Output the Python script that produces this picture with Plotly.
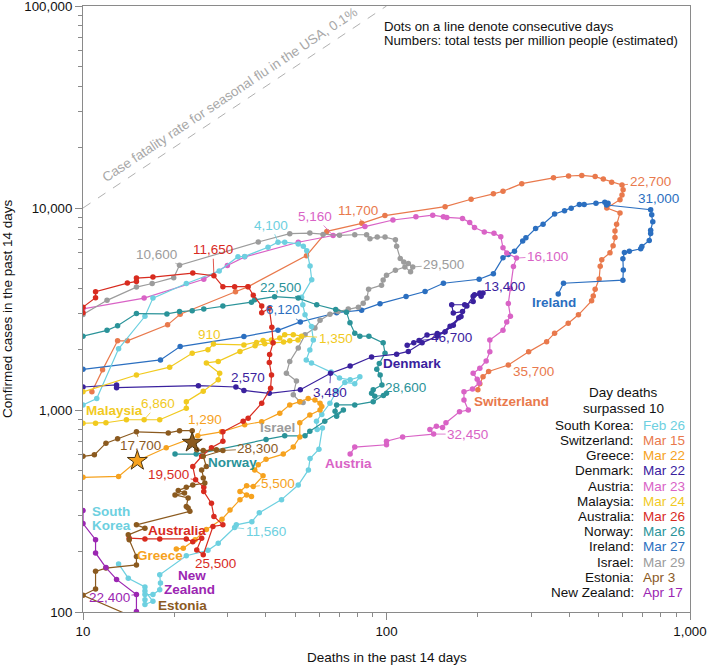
import numpy as np
import plotly.graph_objects as go

# ---------------- data (deaths in past 14 days, confirmed cases in past 14 days) -------------
korea_deaths = [10, 11.1, 13.1, 16.0, 17.0, 21.9, 28.1, 32.4, 34.1, 40.7, 43.9, 46.2, 51.2, 53.2, 54.6, 56.0, 56.7,
                52.5, 53.0, 53.9, 56.6, 57.4, 55.9, 54.4, 56.6, 65.7, 70.0, 75.9, 81.7, 78.6, 72.9, 68.5, 65.1,
                61.2, 58.8, 59.1, 61.5, 59.9, 56.0, 55.3, 51.2, 45.1, 38.1, 36.0, 32.0, 31.6, 27.9, 25.8, 21.9,
                17.9, 18.0, 17.9, 17.0, 16.0, 16.0, 16.0, 17.0, 16.0, 16.0, 14.1, 13.1]
korea_cases = [1060, 1140, 2010, 2910, 3580, 4230, 4880, 5740, 5760, 6390, 6770, 6770, 6640, 6460, 6140, 5160, 4420,
               3620, 3320, 2960, 2590, 2220, 1980, 1770, 1710, 1540, 1440, 1410, 1460, 1350, 1370, 1240, 1080,
               950, 880, 800, 815, 640, 575, 505, 425, 360, 310, 280, 270, 262, 219, 202, 190,
               153, 139, 129, 122, 122, 115, 109, 113, 127, 133, 147, 173]

swiss_deaths = [10.7, 11.6, 13.0, 14.0, 19.0, 20.9, 31.8, 34.9, 54.5, 63.6, 82.9, 98.8, 156, 190, 225, 242, 279,
                355, 398, 440, 487, 518, 552, 597, 602, 597, 588, 532, 588, 573, 566, 566, 558, 545, 512, 506,
                502, 487, 480, 474, 429, 397, 358, 337, 294, 252, 217, 208, 203, 200]
swiss_cases = [1230, 1580, 2200, 2200, 2640, 2980, 3850, 4070, 5810, 7660, 8400, 9170, 10150, 11050, 11750, 12100,
               13200, 14100, 14400, 14500, 14300, 13900, 13400, 13000, 12300, 11600, 11000, 10000, 9450, 8300,
               7700, 7150, 6500, 6000, 5550, 5150, 4450, 3960, 3670, 3470, 2960, 2690, 2400, 2180, 1940, 1670,
               1550, 1460, 1350, 1260]

greece_deaths = [10, 13.1, 15.1, 18.8, 23.9, 28.6, 34.1, 38.8, 44.5, 48.0, 51.8, 55.2, 58.1, 60.4, 61.2, 60.4, 55.9,
                 51.8, 51.8, 49.3, 45.7, 40.1, 37.8, 36.8, 39.2, 36.4, 34.6, 32.9, 35.9, 34.6, 32.9, 30.5, 28.7,
                 25.5, 23.4, 21.4, 20.3]
greece_cases = [464, 469, 561, 650, 745, 780, 845, 875, 965, 1060, 1100, 1140, 1120, 1080, 1040, 1000, 945,
                865, 735, 655, 605, 570, 535, 505, 472, 418, 422, 395, 373, 380, 360, 320, 288, 256, 228, 207, 205]

denmark_deaths = [10, 12.9, 12.9, 24.0, 31.9, 33.9, 41.1, 52.0, 65.4, 75.9, 89.3, 108, 118, 131, 147, 162, 173,
                  184, 193, 203, 208, 205, 195, 193, 181, 164, 166, 178, 176, 166, 156, 147, 136, 128, 123, 117]
denmark_cases = [1300, 1330, 1290, 1320, 1300, 1250, 1210, 1260, 1520, 1650, 1830, 1890, 1950, 2150, 2320, 2600,
                 2860, 3270, 3660, 3800, 3800, 3660, 3720, 3440, 3320, 3320, 3020, 3070, 2900, 2630, 2440, 2390,
                 2350, 2210, 2150, 2090]

austria_deaths = [10, 15.9, 25.0, 29.9, 34.1, 51.2, 66.7, 84.9, 105, 125, 142, 154, 158, 178, 188, 195, 210, 226,
                  238, 242, 249, 268, 262, 256, 252, 256, 249, 242, 219, 219, 213, 203, 193, 199, 202, 192, 180,
                  180, 186, 174, 157, 153, 146, 139, 143, 113, 100, 100, 78.6, 75.9]
austria_cases = [3170, 3580, 4440, 5190, 5730, 6770, 7310, 8090, 8720, 9040, 9220, 9040, 8980, 8880, 8480, 8000,
                 7610, 7490, 7210, 6350, 5990, 5650, 5130, 4000, 3370, 2910, 2730, 2480, 2220, 1940, 1750, 1610,
                 1520, 1420, 1360, 1270, 1230, 1120, 1000, 980, 865, 820, 830, 800, 760, 735, 700, 673, 655, 605]

malaysia_deaths = [10, 15.0, 19.3, 22.9, 25.8, 26.9, 33.9, 37.3, 39.2, 41.8, 44.5, 46.2, 49.3, 52.5, 51.1, 48.0,
                   45.8, 42.2, 39.7, 36.9, 32.9, 27.9, 25.5, 28.2, 27.9, 24.9, 21.9, 21.9, 17.9, 15.9, 13.9, 11.9,
                   11.0, 10.0]
malaysia_cases = [1230, 1490, 1630, 1910, 1990, 2120, 2100, 2160, 2210, 2220, 2270, 2360, 2360, 2320, 2220, 2200,
                  2170, 2150, 2130, 2080, 1950, 1740, 1710, 1520, 1410, 1240, 1100, 1020, 895, 895, 895, 865,
                  860, 860]

australia_deaths = [10, 10, 11.0, 11.0, 14.0, 15.0, 15.0, 17.0, 23.0, 27.0, 28.9, 31.6, 35.0, 36.4, 38.8, 38.8,
                    41.1, 41.9, 42.3, 41.2, 41.1, 41.8, 41.5, 38.8, 35.0, 33.7, 28.9, 28.9, 26.5, 24.6, 23.0,
                    23.5, 25.0, 25.0, 26.5, 27.0, 28.9, 26.8, 24.9, 23.7, 24.6, 23.0, 21.9, 17.9, 16.0, 14.2]
australia_cases = [3030, 3230, 3600, 3850, 4250, 4330, 4500, 4550, 4760, 4620, 4080, 4080, 4080, 3700, 3270, 3030,
                   3190, 2570, 2150, 1880, 1720, 1490, 1280, 1080, 910, 880, 780, 700, 650, 590, 525,
                   451, 415, 395, 345, 297, 270, 265, 192, 203, 232, 223, 230, 230, 230, 232]

norway_deaths = [10, 12.0, 13.0, 15.0, 18.9, 20.8, 22.9, 25.0, 28.9, 35.9, 36.8, 42.8, 51.2, 58.9, 68.0, 73.8,
                 75.8, 78.6, 81.7, 87.5, 97.5, 98.9, 94.7, 92.9, 95.3, 96.6, 90.4, 89.3, 91.5, 97.7, 100, 90.4,
                 78.6, 68.5, 67.7, 68.5, 72.1, 62.6, 55.9, 53.9, 46.2, 40.1, 23.6, 20.1]
norway_cases = [2320, 2480, 2610, 3000, 2990, 3070, 3100, 3160, 3270, 3420, 3510, 3640, 3580, 3320, 3140, 3050,
                2700, 2400, 2320, 2320, 2150, 1910, 1700, 1590, 1490, 1330, 1260, 1210, 1170, 1180, 1210, 1100,
                1060, 1060, 985, 930, 1000, 880, 785, 745, 745, 715, 605, 605]

ireland_deaths = [10, 18.0, 20.9, 33.9, 43.9, 52.0, 68.5, 82.8, 95.2, 116, 134, 154, 202, 225, 242, 252, 264, 281,
                  288, 310, 328, 358, 386, 406, 432, 448, 490, 524, 537, 531, 742, 748, 754, 742, 742, 734, 694,
                  688, 631, 608, 601, 603, 601, 383, 368]
ireland_cases = [1590, 1770, 2060, 2310, 2480, 2730, 3030, 3120, 3360, 3650, 3860, 4240, 4440, 4730, 5670, 5880,
                 6110, 6860, 7130, 7910, 8320, 9340, 9700, 9980, 10400, 10400, 10550, 10690, 10550, 10350, 9800,
                 9250, 8560, 7760, 7470, 6910, 6450, 6280, 6100, 6030, 5600, 4930, 4390, 4240, 3750]

israel_deaths = [10, 12.0, 15.0, 16.9, 19.9, 20.8, 37.8, 48.0, 55.9, 61.8, 70.0, 78.6, 86.0, 88.2, 93.2, 98.9, 107,
                 108, 111, 114, 118, 122, 120, 115, 107, 100, 97.5, 96.3, 87.3, 86.2, 83.8, 80.8, 74.8, 69.3, 65.1,
                 60.4, 58.1, 53.9, 51.2, 48.0, 46.8, 50.5, 49.3, 51.8, 53.1]
israel_cases = [2970, 3490, 4060, 4230, 4520, 5210, 6790, 7460, 7510, 7400, 7320, 7370, 7370, 7050, 7180, 7180,
                6970, 6460, 5620, 5410, 5310, 5110, 4830, 5110, 4920, 4650, 4400, 4150, 3960, 3580, 3380, 3230,
                3160, 3070, 2980, 2780, 2550, 2360, 2030, 1740, 1520, 1390, 1190, 1100, 1090]

estonia_deaths = [10, 10.9, 11.9, 13.0, 15.0, 19.1, 20.8, 22.9, 22.9, 23.7, 24.9, 27.5, 28.9, 24.9, 25.5, 24.6, 24.9,
                  25.2, 23.0, 21.9, 20.6, 21.6, 20.1, 22.2, 21.9, 22.2, 22.5, 15.0, 16.0, 14.1, 14.2, 15.0, 15.0,
                  11.9, 11.0, 11.0, 10.0, 16.6]
estonia_cases = [590, 600, 685, 720, 780, 770, 790, 790, 690, 635, 630, 635, 630, 590, 525, 505, 460, 435, 425, 415,
                 400, 388, 380, 367, 333, 327, 315, 270, 260, 241, 228, 188, 171, 165, 159, 130, 121, 87]

nz_deaths = [10, 10, 11.0, 11.0, 11.9, 12.9, 15.0, 15.0, 15.0]
nz_cases = [318, 274, 228, 196, 166, 145, 122, 100.7, 73]

flu_cfr = 0.001
flu_deaths = [10, 100]

legend_countries = ["South Korea", "Switzerland", "Greece", "Denmark", "Austria", "Malaysia", "Australia",
                    "Norway", "Ireland", "Israel", "Estonia", "New Zealand"]
legend_dates = ["Feb 26", "Mar 15", "Mar 22", "Mar 22", "Mar 23", "Mar 24", "Mar 26", "Mar 26", "Mar 27",
                "Mar 29", "Apr 3", "Apr 17"]

x_tick_vals = [10, 100, 1000]
x_tick_text = ["10", "100", "1,000"]
y_tick_vals = [100, 1000, 10000, 100000]
y_tick_text = ["100", "1,000", "10,000", "100,000"]

# total tests per million labels: (country, point index, text)
test_labels = [
    ("Israel", 5, "10,600"), ("Australia", 9, "11,650"), ("South Korea", 10, "4,100"),
    ("Austria", 6, "5,160"), ("Switzerland", 10, "11,700"), ("Switzerland", 23, "22,700"),
    ("Ireland", 30, "31,000"), ("Israel", 21, "29,500"), ("Austria", 21, "16,100"),
    ("Norway", 12, "22,500"), ("Ireland", 5, "6,120"), ("Denmark", 20, "13,400"),
    ("Denmark", 33, "46,700"), ("Malaysia", 5, "910"), ("Malaysia", 13, "1,350"),
    ("Denmark", 4, "2,570"), ("Denmark", 8, "3,480"), ("Norway", 29, "28,600"),
    ("Malaysia", 29, "6,860"), ("Greece", 4, "1,290"), ("Estonia", 4, "17,700"),
    ("Estonia", 12, "28,300"), ("Australia", 31, "19,500"), ("Greece", 25, "5,500"),
    ("Austria", 44, "32,450"), ("Switzerland", 45, "35,700"), ("South Korea", 45, "11,560"),
    ("Australia", 38, "25,500"), ("New Zealand", 6, "22,400"),
]
star_points = [("Greece", 2), ("Estonia", 8)]

# ---------------- styling ----------------
colors = {
    "South Korea": "#6dd0e0", "Switzerland": "#e9794c", "Greece": "#f6a21e", "Denmark": "#3a219e",
    "Austria": "#d963c6", "Malaysia": "#f1ca1f", "Australia": "#d82b1f", "Norway": "#2a9399",
    "Ireland": "#2b6fc0", "Israel": "#9c9c9c", "Estonia": "#8b5a1f", "New Zealand": "#9b26b2",
}
series = {
    "Switzerland": (swiss_deaths, swiss_cases), "Ireland": (ireland_deaths, ireland_cases),
    "Austria": (austria_deaths, austria_cases), "Israel": (israel_deaths, israel_cases),
    "South Korea": (korea_deaths, korea_cases), "Norway": (norway_deaths, norway_cases),
    "Denmark": (denmark_deaths, denmark_cases), "Malaysia": (malaysia_deaths, malaysia_cases),
    "Australia": (australia_deaths, australia_cases), "Greece": (greece_deaths, greece_cases),
    "Estonia": (estonia_deaths, estonia_cases), "New Zealand": (nz_deaths, nz_cases),
}
# label offsets in pixels (text centre relative to the point)
label_offsets = {
    "10,600": (-23, -11), "11,650": (-1, -26), "4,100": (-7, -17), "5,160": (-18, -19),
    "11,700": (-4, -13), "22,700": (28, -3), "31,000": (8, -11), "29,500": (31, -2),
    "16,100": (31, -2), "22,500": (-18, -11), "6,120": (-17, -12), "13,400": (21, -6),
    "46,700": (32, -3), "910": (-4, -10), "1,350": (34, 2), "2,570": (12, -9),
    "3,480": (-1, 19), "28,600": (22, -8), "6,860": (14, -16), "1,290": (7, -16),
    "17,700": (4, 14), "28,300": (35, -2), "19,500": (-27, -5), "5,500": (25, -3),
    "32,450": (34, 0), "35,700": (25, 6), "11,560": (31, 4), "25,500": (12, 9),
    "22,400": (-27, 3),
}
# country name labels: (name, deaths position, cases position, anchor)
name_labels = [
    ("Ireland", 356, 3390, "center"), ("Denmark", 121, 1691, "center"),
    ("Switzerland", 258, 1101, "center"), ("Austria", 75.2, 541, "center"),
    ("Malaysia", 12.7, 990, "center"), ("Israel", 43.9, 816, "center"),
    ("Norway", 31.2, 550, "center"), ("Australia", 20.4, 252, "center"),
    ("Greece", 18.0, 190, "center"), ("Estonia", 21.2, 108, "center"),
]
name_labels_multi = [
    ("South Korea", "South", 10.52, 315, "left"), ("South Korea", "Korea", 10.52, 268, "left"),
    ("New Zealand", "New", 22.8, 152, "center"), ("New Zealand", "Zealand", 22.5, 129, "center"),
]

FONT = "Liberation Sans, Arial, Helvetica, sans-serif"
fig = go.Figure()

fig.add_trace(go.Scatter(
    x=flu_deaths, y=[d / flu_cfr for d in flu_deaths], mode="lines",
    line=dict(color="#b0b0b0", width=1, dash="dash"), hoverinfo="skip"))

draw_order = ["Switzerland", "Ireland", "Austria", "Israel", "South Korea", "Norway", "Denmark",
              "Malaysia", "Greece", "Australia", "Estonia", "New Zealand"]
for name in draw_order:
    d, c = series[name]
    fig.add_trace(go.Scatter(
        x=d, y=c, mode="lines+markers", name=name,
        line=dict(color=colors[name], width=1.2),
        marker=dict(color=colors[name], size=5.5)))

for name, idx in star_points:
    d, c = series[name]
    fig.add_trace(go.Scatter(
        x=[d[idx]], y=[c[idx]], mode="markers",
        marker=dict(symbol="star", size=15, color=colors[name], line=dict(color="#4a3310", width=1))))

annotations = []
for name, idx, text in test_labels:
    d, c = series[name]
    ax, ay = label_offsets[text]
    annotations.append(dict(
        x=np.log10(d[idx]), y=np.log10(c[idx]), xref="x", yref="y", text=text,
        showarrow=True, arrowhead=0, arrowwidth=0.8, arrowcolor=colors[name],
        ax=ax, ay=ay, font=dict(family=FONT, size=13.5, color=colors[name])))

for name, xd, yc, anchor in name_labels:
    annotations.append(dict(
        x=np.log10(xd), y=np.log10(yc), xref="x", yref="y", text="<b>%s</b>" % name,
        showarrow=False, xanchor=anchor, font=dict(family=FONT, size=13.5, color=colors[name])))
for name, text, xd, yc, anchor in name_labels_multi:
    annotations.append(dict(
        x=np.log10(xd), y=np.log10(yc), xref="x", yref="y", text="<b>%s</b>" % text,
        showarrow=False, xanchor=anchor, font=dict(family=FONT, size=13.5, color=colors[name])))

# flu line label
annotations.append(dict(
    x=np.log10(30.5), y=np.log10(36600), xref="x", yref="y",
    text="Case fatality rate for seasonal flu in the USA, 0.1%", showarrow=False,
    textangle=-33.7, font=dict(family=FONT, size=13.5, color="#a8a8a8")))

L, R, T, B = 83.3, 690.0, 6.0, 612.3
def px_x(p):
    return (p - L) / (R - L)
def px_y(p):
    return (B - p) / (B - T)

for i, line in enumerate(["Dots on a line denote consecutive days",
                          "Numbers: total tests per million people (estimated)"]):
    annotations.append(dict(x=px_x(382), y=px_y(27 + 13.5 * i), xref="paper", yref="paper", text=line,
                            showarrow=False, xanchor="left", yanchor="middle",
                            font=dict(family=FONT, size=13.2, color="#111")))

for i, line in enumerate(["Day deaths", "surpassed 10"]):
    annotations.append(dict(x=px_x(624), y=px_y(393 + 16 * i), xref="paper", yref="paper", text=line,
                            showarrow=False, xanchor="center", yanchor="middle",
                            font=dict(family=FONT, size=13.5, color="#111")))
for i, (cn, dt) in enumerate(zip(legend_countries, legend_dates)):
    yy = px_y(425.6 + 15.19 * i)
    annotations.append(dict(x=px_x(636.5), y=yy, xref="paper", yref="paper", text=cn + ":",
                            showarrow=False, xanchor="right", yanchor="middle",
                            font=dict(family=FONT, size=13.5, color="#111")))
    annotations.append(dict(x=px_x(641), y=yy, xref="paper", yref="paper", text=dt,
                            showarrow=False, xanchor="left", yanchor="middle",
                            font=dict(family=FONT, size=13.5, color=colors[cn])))

# axis titles
annotations.append(dict(x=0.5, y=0, xref="paper", yref="paper", yshift=-45, text="Deaths in the past 14 days",
                        showarrow=False, xanchor="center", yanchor="middle",
                        font=dict(family=FONT, size=13.5, color="#111")))
annotations.append(dict(x=0, y=0.5, xref="paper", yref="paper", xshift=-76,
                        text="Confirmed cases in the past 14 days",
                        showarrow=False, xanchor="center", yanchor="middle", textangle=-90,
                        font=dict(family=FONT, size=13.5, color="#111")))

x_minor = [v * m for m in (10, 100) for v in range(2, 10)]
y_minor = [v * m for m in (100, 1000, 10000) for v in range(2, 10)]
axis_common = dict(type="log", showline=True, linecolor="#8a8a8a", linewidth=1, mirror=True,
                   ticks="outside", ticklen=7, tickcolor="#8a8a8a", tickwidth=1,
                   showgrid=False, zeroline=False, automargin=False, ticklabeloverflow="allow",
                   tickfont=dict(family=FONT, size=13.3, color="#111"))
fig.update_layout(
    width=708, height=665, margin=dict(l=83.3, r=18, t=6, b=52.7, autoexpand=False),
    paper_bgcolor="white", plot_bgcolor="white", showlegend=False,
    xaxis=dict(range=[1, 3.00001], tickvals=x_tick_vals, ticktext=x_tick_text,
               minor=dict(tickvals=x_minor, ticks="outside", ticklen=4, tickcolor="#8a8a8a", showgrid=False),
               **axis_common),
    yaxis=dict(range=[2, 5.00001], tickvals=y_tick_vals, ticktext=y_tick_text,
               minor=dict(tickvals=y_minor, ticks="outside", ticklen=4, tickcolor="#8a8a8a", showgrid=False),
               **axis_common),
    annotations=annotations,
)

fig.write_html("out.html", config={"displayModeBar": False},
               post_script="document.body.style.margin='0px';document.body.style.overflow='hidden';")
